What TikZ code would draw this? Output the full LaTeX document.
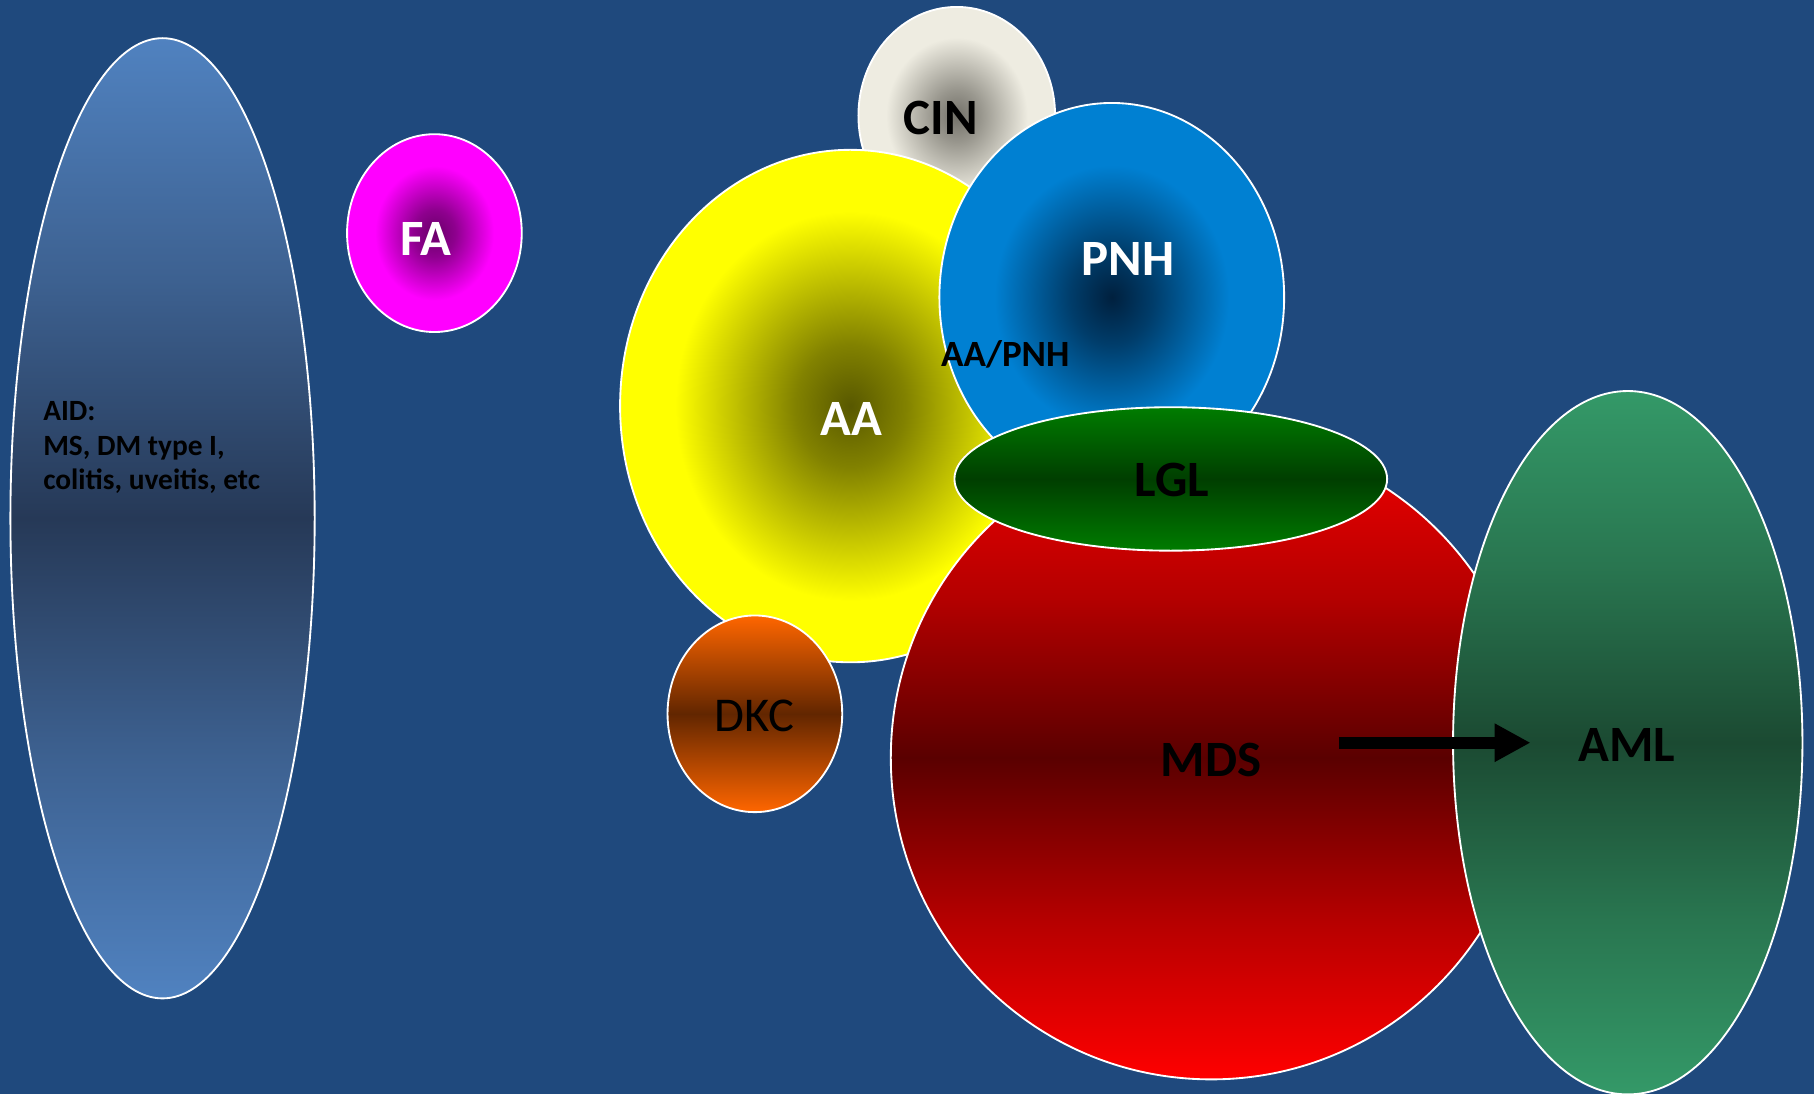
\documentclass[tikz,border=0pt]{standalone}
\usepackage{fontspec}
\setmainfont{Carlito}
\usetikzlibrary{shapes.geometric,arrows.meta}
\definecolor{bg}{RGB}{31,73,125}
\definecolor{faout}{RGB}{255,0,255}\definecolor{fain}{RGB}{105,0,105}
\definecolor{cinout}{RGB}{238,236,225}\definecolor{cinin}{RGB}{115,113,105}
\definecolor{aaout}{RGB}{255,255,0}\definecolor{aain}{RGB}{88,88,0}
\definecolor{pnhout}{RGB}{0,128,210}\definecolor{pnhin}{RGB}{0,32,62}
\definecolor{aidlight}{RGB}{80,130,192}\definecolor{aiddark}{RGB}{38,57,87}
\definecolor{lgllight}{RGB}{0,124,0}\definecolor{lgldark}{RGB}{0,62,0}
\definecolor{mdslight}{RGB}{255,0,0}\definecolor{mdsdark}{RGB}{90,0,0}
\definecolor{amllight}{RGB}{52,153,104}\definecolor{amldark}{RGB}{27,74,50}
\definecolor{dkclight}{RGB}{255,102,0}\definecolor{dkcdark}{RGB}{98,38,0}
\pgfdeclareradialshading{fashade}{\pgfpointorigin}{color(0bp)=(fain); color(6bp)=(fain!75!faout); color(17bp)=(faout); color(25bp)=(faout); color(50bp)=(faout)}
\pgfdeclareradialshading{cinshade}{\pgfpointorigin}{color(0bp)=(cinin); color(6bp)=(cinin!70!cinout); color(18bp)=(cinout); color(25bp)=(cinout); color(50bp)=(cinout)}
\pgfdeclareradialshading{aashade}{\pgfpointorigin}{color(0bp)=(aain); color(6bp)=(aain!75!aaout); color(19bp)=(aaout); color(25bp)=(aaout); color(50bp)=(aaout)}
\pgfdeclareradialshading{pnhshade}{\pgfpointorigin}{color(0bp)=(pnhin); color(6bp)=(pnhin!70!pnhout); color(17bp)=(pnhout); color(25bp)=(pnhout); color(50bp)=(pnhout)}
\pgfdeclareverticalshading{aidshade}{100bp}{color(0bp)=(aidlight); color(25bp)=(aidlight); color(37.5bp)=(aidlight!55!aiddark); color(50bp)=(aiddark); color(62.5bp)=(aidlight!55!aiddark); color(75bp)=(aidlight); color(100bp)=(aidlight)}
\pgfdeclareverticalshading{lglshade}{100bp}{color(0bp)=(lgllight); color(25bp)=(lgllight); color(50bp)=(lgldark); color(75bp)=(lgllight); color(100bp)=(lgllight)}
\pgfdeclareverticalshading{mdsshade}{100bp}{color(0bp)=(mdslight); color(25bp)=(mdslight); color(37.5bp)=(mdslight!55!mdsdark); color(50bp)=(mdsdark); color(62.5bp)=(mdslight!55!mdsdark); color(75bp)=(mdslight!92!mdsdark); color(100bp)=(mdslight!92!mdsdark)}
\pgfdeclareverticalshading{amlshade}{100bp}{color(0bp)=(amllight); color(25bp)=(amllight); color(37.5bp)=(amllight!55!amldark); color(50bp)=(amldark); color(62.5bp)=(amllight!55!amldark); color(75bp)=(amllight); color(100bp)=(amllight)}
\pgfdeclareverticalshading{dkcshade}{100bp}{color(0bp)=(dkclight); color(25bp)=(dkclight); color(50bp)=(dkcdark); color(75bp)=(dkclight); color(100bp)=(dkclight)}
\tikzset{
  blob/.style={ellipse, draw=white, line width=0.8pt, inner sep=0pt, outer sep=0pt},
  bigwhite/.style={text=white, font=\fontsize{22}{24}\selectfont\bfseries},
  bigblack/.style={text=black, font=\fontsize{22}{24}\selectfont\bfseries},
}
\begin{document}
\begin{tikzpicture}[x=0.5pt,y=-0.5pt]
\fill[bg] (0,0) rectangle (1568,946);
\useasboundingbox (0,0) rectangle (1568,946);
% shapes, back to front
\node[blob, minimum width=131.5pt, minimum height=415pt, shading=aidshade] (aid) at (140.5,448) {};
\node[blob, minimum width=75.5pt, minimum height=85.5pt, shading=fashade] (fa) at (375.5,201.5) {};
\node[blob, minimum width=85pt, minimum height=94pt, shading=cinshade] (cin) at (827,100) {};
\node[blob, minimum width=199pt, minimum height=221.5pt, shading=aashade] (aa) at (735,351) {};
\node[blob, minimum width=149pt, minimum height=168pt, shading=pnhshade] (pnh) at (961,257) {};
\node[blob, minimum width=277pt, minimum height=278pt, shading=mdsshade] (mds) at (1047,655) {};
\node[blob, minimum width=187pt, minimum height=62pt, shading=lglshade] (lgl) at (1012,414) {};
\node[blob, minimum width=75.5pt, minimum height=85pt, shading=dkcshade] (dkc) at (652.5,617) {};
\node[blob, minimum width=151pt, minimum height=304pt, shading=amlshade] (aml) at (1407,642) {};
% arrow
\coordinate (arrS) at (1157,642);
\coordinate (arrE) at (1323,642);
\draw[black, line width=5.2pt, -{Triangle[length=15.5pt, width=15.5pt]}] (arrS) -- (arrE);
% labels
\node[anchor=west, align=left, inner sep=0pt, text=black, font=\fontsize{12.7}{15}\selectfont\bfseries] (aidt) at (37,387) {AID:\\MS, DM type I,\\colitis, uveitis, etc};
\node[bigwhite] (fat) at (368,207) {FA};
\node[bigblack] (cint) at (813,102) {CIN};
\node[bigwhite] (aat) at (736,362) {AA};
\node[bigwhite] (pnht) at (975,224) {PNH};
\node[text=black, font=\fontsize{16}{18}\selectfont\bfseries] (aapnht) at (869,306) {AA/PNH};
\node[bigblack] (lglt) at (1013,415) {LGL};
\node[text=black, font=\fontsize{21}{24}\selectfont] (dkct) at (652,619) {DKC};
\node[bigblack] (mdst) at (1047,657) {MDS};
\node[bigblack] (amlt) at (1406,644) {AML};
\end{tikzpicture}
\end{document}
